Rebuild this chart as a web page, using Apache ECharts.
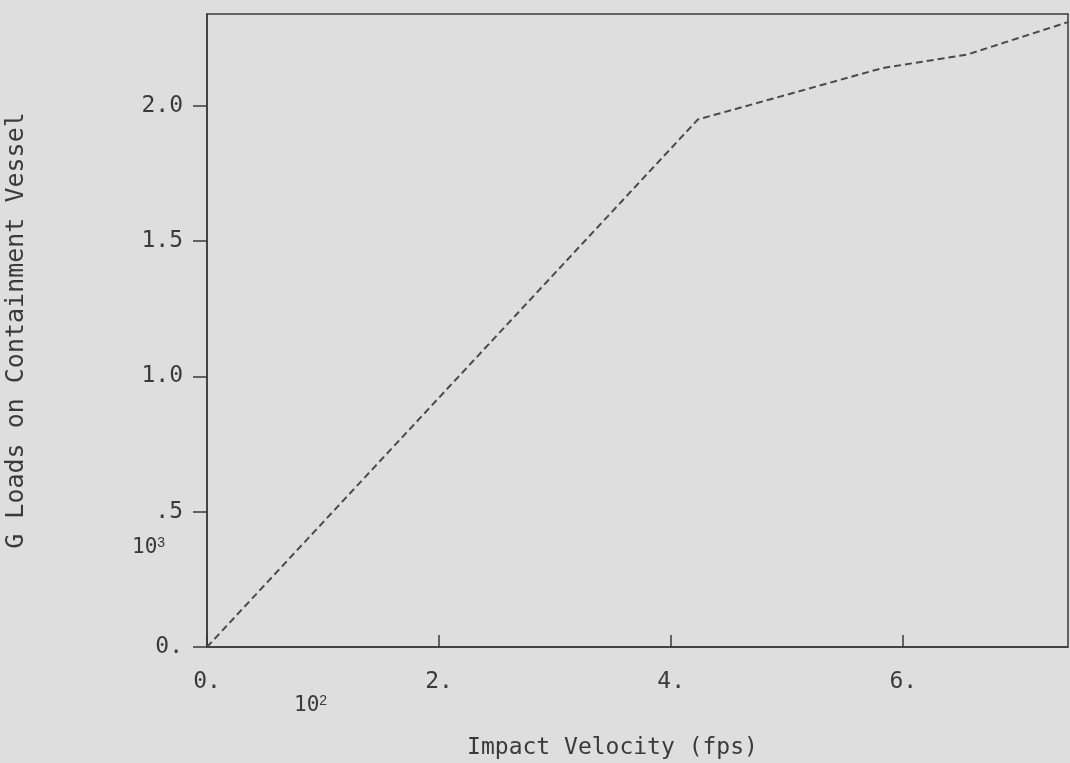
<!DOCTYPE html>
<html>
<head>
<meta charset="utf-8">
<script src="https://cdn.jsdelivr.net/npm/echarts@6/dist/echarts.min.js"></script>
<style>
  html, body { margin: 0; padding: 0; background: #dedede; }
  #chart { width: 1070px; height: 763px; }
</style>
</head>
<body>
<div id="chart"></div>
<script>
// impact velocity (x 10^2 fps) vs G loads (x 10^3)
const velocity = [0, 4.23, 5.82, 6.55, 7.42];
const gLoads = [0, 1.95, 2.14, 2.19, 2.31];
const xTicks = [0, 2, 4, 6];
const yTickLabels = { 0: "0.", 0.5: ".5", 1: "1.0", 1.5: "1.5", 2: "2.0" };

const ink = "#3a3a3a";
const font = "DejaVu Sans Mono";

var chart = echarts.init(document.getElementById("chart"));

chart.setOption({
  backgroundColor: "#dedede",
  animation: false,
  grid: {
    left: 207,
    right: 2,
    top: 14,
    bottom: 116,
    outerBoundsMode: "none",
    show: true,
    borderColor: ink,
    borderWidth: 1.5,
    backgroundColor: "transparent",
  },
  xAxis: {
    type: "value",
    min: 0,
    max: 7.42,
    interval: 2,
    name: "Impact Velocity (fps)",
    nameLocation: "middle",
    nameGap: 90,
    nameTextStyle: { color: ink, fontFamily: font, fontSize: 23, padding: [0, 50, 0, 0] },
    axisLine: { lineStyle: { color: ink, width: 1.5 } },
    axisTick: { inside: true, length: 12, lineStyle: { color: ink, width: 1.5 } },
    splitLine: { show: false },
    axisLabel: {
      color: ink,
      fontFamily: font,
      fontSize: 23,
      margin: 24,
      showMaxLabel: false,
      formatter: (v) => (xTicks.includes(v) ? v + "." : ""),
    },
  },
  yAxis: {
    type: "value",
    min: 0,
    max: 2.34,
    interval: 0.5,
    name: "G Loads on Containment Vessel",
    nameLocation: "middle",
    nameGap: 178,
    nameRotate: 90,
    nameTextStyle: { color: ink, fontFamily: font, fontSize: 25 },
    axisLine: { lineStyle: { color: ink, width: 1.5 } },
    axisTick: { length: 14, lineStyle: { color: ink, width: 1.5 } },
    splitLine: { show: false },
    axisLabel: {
      color: ink,
      fontFamily: font,
      fontSize: 23,
      margin: 24,
      showMaxLabel: false,
      formatter: (v) => yTickLabels[v] || "",
    },
  },
  graphic: [
    {
      type: "text",
      left: 132,
      top: 536,
      style: {
        text: "10{s|3}",
        fill: ink,
        font: "21px " + font,
        rich: { s: { fontSize: 14, verticalAlign: "top", fill: ink, padding: [0, 0, 10, 0] } },
      },
    },
    {
      type: "text",
      left: 294,
      top: 694,
      style: {
        text: "10{s|2}",
        fill: ink,
        font: "21px " + font,
        rich: { s: { fontSize: 14, verticalAlign: "top", fill: ink, padding: [0, 0, 10, 0] } },
      },
    },
  ],
  series: [
    {
      type: "line",
      data: velocity.map((v, i) => [v, gLoads[i]]),
      showSymbol: false,
      lineStyle: { color: "#4a4a4a", width: 2, type: [7, 4] },
    },
  ],
});
</script>
</body>
</html>
